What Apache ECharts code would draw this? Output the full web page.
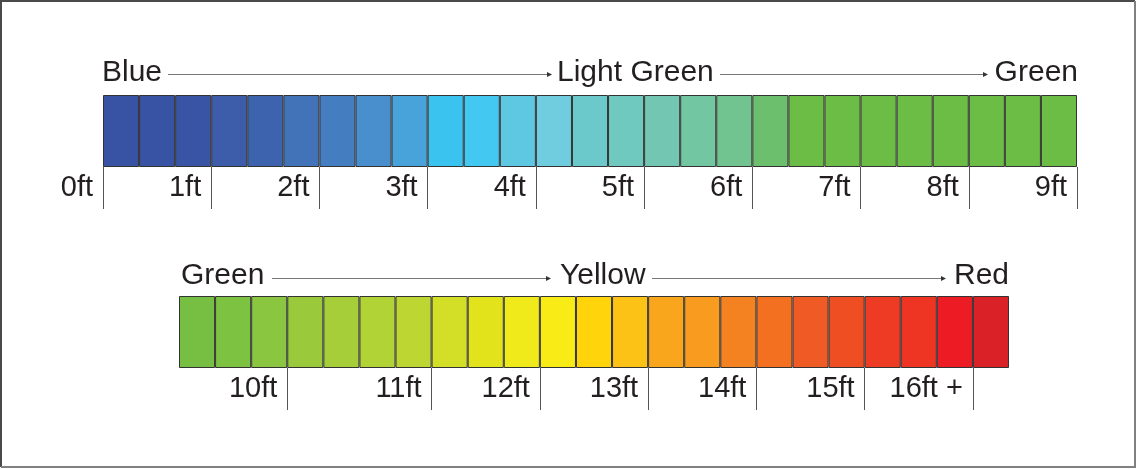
<!DOCTYPE html>
<html><head><meta charset="utf-8">
<script src="https://cdn.jsdelivr.net/npm/echarts@6/dist/echarts.min.js"></script>
<style>html,body{margin:0;padding:0;background:#fff}#c{width:1136px;height:469px}</style>
</head><body><div id="c"></div>
<script>
// ---- data ----
const topCells = ['c0','c1','c2','c3','c4','c5','c6','c7','c8','c9','c10','c11','c12','c13','c14','c15','c16','c17','c18','c19','c20','c21','c22','c23','c24','c25','c26'];
const topValues = [1,1,1,1,1,1,1,1,1,1,1,1,1,1,1,1,1,1,1,1,1,1,1,1,1,1,1];
const topColors = ['#3853A4','#3953A4','#3A54A5','#3D5CA9','#3E63AE','#4272B8','#447EC0','#498FCD','#47A3DA','#3BC3F0','#43C8F1','#5EC8E3','#6FCDDF','#6CC9CB','#6FC9BF','#73C7B2','#72C6A1','#71C48F','#6CBF6C','#6CBD45','#6CBD45','#6CBD45','#6CBD45','#6CBD45','#6CBD45','#6CBD45','#6CBD45'];
const topTickValues = [0,3,6,9,12,15,18,21,24,27];
const topTickLabels = ['0ft','1ft','2ft','3ft','4ft','5ft','6ft','7ft','8ft','9ft'];
const topHeaders = ['Blue','Light Green','Green'];

const bottomCells = ['d0','d1','d2','d3','d4','d5','d6','d7','d8','d9','d10','d11','d12','d13','d14','d15','d16','d17','d18','d19','d20','d21','d22'];
const bottomValues = [1,1,1,1,1,1,1,1,1,1,1,1,1,1,1,1,1,1,1,1,1,1,1];
const bottomColors = ['#77BF43','#7EC242','#8AC640','#9ACA3C','#A5CE39','#B1D335','#BDD631','#D3DF26','#E2E31A','#F1EA1B','#F9EC16','#FFD40A','#FDC216','#FAA61D','#F89B1E','#F58220','#F37021','#F05A24','#EF4E23','#EE3B24','#EE3524','#ED1C24','#DA2128'];
const bottomTickValues = [3,7,10,13,16,19,22];
const bottomTickLabels = ['10ft','11ft','12ft','13ft','14ft','15ft','16ft +'];
const bottomHeaders = ['Green','Yellow','Red'];

// ---- chart ----
const FONT = '"Liberation Sans", Arial, Helvetica, sans-serif';
const TXT = '#231F20';
const chart = echarts.init(document.getElementById('c'), null, {renderer: 'canvas'});

function tickAxis(grid, max, vals, labels) {
  return {
    type: 'value', gridIndex: grid, min: 0, max: max, position: 'bottom',
    axisLine: {show: false}, splitLine: {show: false},
    axisTick: {show: true, customValues: vals, length: 42, lineStyle: {color: '#555', width: 1}},
    axisLabel: {
      show: true, customValues: vals,
      formatter: v => labels[vals.indexOf(v)] || '',
      align: 'right', verticalAlign: 'middle', margin: 21, padding: [0, 10, 0, 0],
      fontSize: 29, fontFamily: FONT, color: TXT
    }
  };
}
function catAxis(grid, cats) {
  return {type: 'category', gridIndex: grid, data: cats, position: 'bottom', boundaryGap: true,
    axisLine: {show: false}, axisTick: {show: false}, axisLabel: {show: false}, splitLine: {show: false}};
}
function barSeries(xi, yi, vals, colors) {
  return {
    type: 'bar', xAxisIndex: xi, yAxisIndex: yi, silent: true,
    barWidth: '100%', barCategoryGap: '0%',
    itemStyle: {borderColor: '#333', borderWidth: 1},
    data: vals.map((v, i) => ({value: v, itemStyle: {color: colors[i]}}))
  };
}
function header(text, x, y, align) {
  return {type: 'text', style: {text: text, x: x, y: y, fill: TXT, font: '30px ' + FONT, align: align || 'left', verticalAlign: 'middle'}};
}
function arrow(x1, x2, y) {
  return [
    {type: 'line', shape: {x1: x1, y1: y, x2: x2 - 4, y2: y}, style: {stroke: '#777', lineWidth: 1}},
    {type: 'polygon', shape: {points: [[x2, y], [x2 - 5, y - 2.5], [x2 - 5, y + 2.5]]}, style: {fill: '#333'}}
  ];
}

chart.setOption({
  animation: false,
  backgroundColor: '#fff',
  grid: [
    {left: 103, top: 95, width: 974, height: 72},
    {left: 179, top: 296, width: 830, height: 72}
  ],
  xAxis: [
    catAxis(0, topCells),
    tickAxis(0, topCells.length, topTickValues, topTickLabels),
    catAxis(1, bottomCells),
    tickAxis(1, bottomCells.length, bottomTickValues, bottomTickLabels)
  ],
  yAxis: [
    {type: 'value', gridIndex: 0, min: 0, max: 1, show: false},
    {type: 'value', gridIndex: 1, min: 0, max: 1, show: false}
  ],
  series: [
    barSeries(0, 0, topValues, topColors),
    barSeries(2, 1, bottomValues, bottomColors)
  ],
  graphic: [
    {type: 'polyline', shape: {points: [[1, 467], [1, 1], [1135, 1]]}, style: {stroke: '#4a4a4a', lineWidth: 2, fill: null}},
    {type: 'polyline', shape: {points: [[1135, 1], [1135, 467], [1, 467]]}, style: {stroke: '#808080', lineWidth: 2, fill: null}},
    header(topHeaders[0], 102, 73),
    header(topHeaders[1], 557, 73),
    header(topHeaders[2], 1078, 73, 'right'),
    ...arrow(168, 552, 74.5),
    ...arrow(720, 988, 74.5),
    header(bottomHeaders[0], 181, 276),
    header(bottomHeaders[1], 560, 276),
    header(bottomHeaders[2], 1009, 276, 'right'),
    ...arrow(272, 551, 278.5),
    ...arrow(652, 946, 278.5)
  ]
});
</script>
</body></html>
